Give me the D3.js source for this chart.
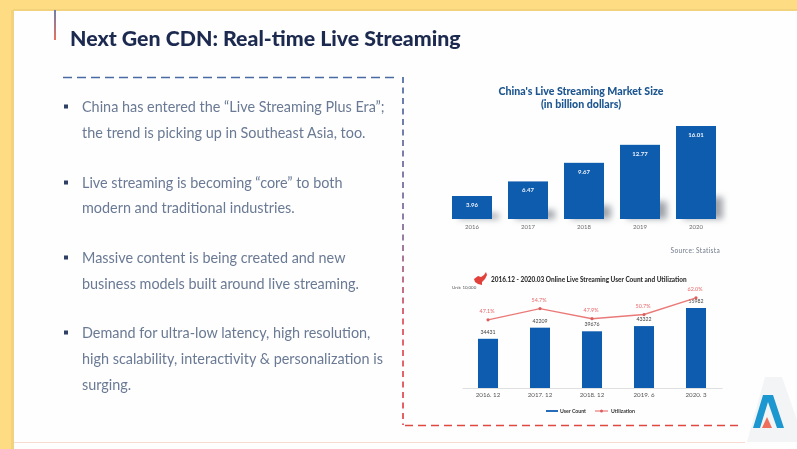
<!DOCTYPE html>
<html>
<head>
<meta charset="utf-8">
<style>
  html, body { margin: 0; padding: 0; background: #fff; overflow: hidden; }
  svg { display: block; font-family: Lato, "Open Sans", sans-serif; }
</style>
<script src="https://cdn.jsdelivr.net/npm/d3@7/dist/d3.min.js"></script>
</head>
<body>
<div id="slide"></div>
<script>
// market size chart
var marketYears = ["2016", "2017", "2018", "2019", "2020"];
var marketValues = [3.96, 6.47, 9.67, 12.77, 16.01];

// user count chart
var userPeriods = ["2016. 12", "2017. 12", "2018. 12", "2019. 6", "2020. 3"];
var userCounts = [34431, 42209, 39676, 43322, 55982];
var utilization = [47.1, 54.7, 47.9, 50.7, 62.0];

// bullet text, one inner array per bullet
var bullets = [
  ["China has entered the “Live Streaming Plus Era”;", "the trend is picking up in Southeast Asia, too."],
  ["Live streaming is becoming “core” to both", "modern and traditional industries."],
  ["Massive content is being created and new", "business models built around live streaming."],
  ["Demand for ultra-low latency, high resolution,", "high scalability, interactivity & personalization is", "surging."]
];

var width = 797, height = 449;

var svg = d3.select("#slide").append("svg")
  .attr("width", width)
  .attr("height", height);

var defs = svg.append("defs");

// the reference is a soft screenshot, so everything gets a bit of blur
function addBlur(id, amount) {
  defs.append("filter").attr("id", id)
    .attr("x", "-10%").attr("y", "-10%").attr("width", "120%").attr("height", "120%")
    .append("feGaussianBlur").attr("stdDeviation", amount);
}
addBlur("soft", 0.55);
addBlur("softer", 0.75);
defs.append("filter").attr("id", "shadow")
  .attr("x", "-50%").attr("y", "-50%").attr("width", "200%").attr("height", "200%")
  .append("feGaussianBlur").attr("stdDeviation", 3);

var accent = defs.append("linearGradient").attr("id", "accent")
  .attr("x1", 0).attr("y1", 0).attr("x2", 0).attr("y2", 1);
accent.append("stop").attr("offset", "0%").attr("stop-color", "#6f7fa8");
accent.append("stop").attr("offset", "100%").attr("stop-color", "#e8705f");

var sideLine = defs.append("linearGradient").attr("id", "sideLine")
  .attr("gradientUnits", "userSpaceOnUse")
  .attr("x1", 0).attr("y1", 77).attr("x2", 0).attr("y2", 426);
sideLine.append("stop").attr("offset", "0%").attr("stop-color", "#3f5f9c");
sideLine.append("stop").attr("offset", "45%").attr("stop-color", "#7a5f90");
sideLine.append("stop").attr("offset", "70%").attr("stop-color", "#d9434f");
sideLine.append("stop").attr("offset", "100%").attr("stop-color", "#e0383f");

// slide background
svg.append("rect").attr("width", width).attr("height", height).attr("fill", "#fddc83");
svg.append("rect").attr("x", 13).attr("y", 10).attr("width", width - 13).attr("height", height - 10).attr("fill", "#fefefe");
svg.append("rect").attr("x", 11).attr("y", 10).attr("width", 3).attr("height", height - 10).attr("fill", "#f3d27c");
svg.append("rect").attr("x", 13).attr("y", 9).attr("width", width - 13).attr("height", 2).attr("fill", "#f3d27c");
svg.append("line").attr("x1", 14).attr("x2", 745).attr("y1", 442.5).attr("y2", 442.5)
  .attr("stroke", "#f6dcd2").attr("stroke-width", 1.2);

var left = svg.append("g").attr("filter", "url(#soft)");

// title
left.append("rect").attr("x", 54).attr("y", 10).attr("width", 2).attr("height", 30).attr("fill", "url(#accent)");
left.append("text")
  .attr("x", 70).attr("y", 46)
  .attr("font-size", 21.3).attr("font-weight", 900).attr("fill", "#1d2a50")
  .text("Next Gen CDN: Real-time Live Streaming");

// dashed frame
left.append("line").attr("x1", 63).attr("x2", 398).attr("y1", 77.5).attr("y2", 77.5)
  .attr("stroke", "#4a6aa3").attr("stroke-width", 1.3).attr("stroke-dasharray", "9 5");
left.append("line").attr("x1", 403).attr("x2", 403.01).attr("y1", 77).attr("y2", 425)
  .attr("stroke", "url(#sideLine)").attr("stroke-width", 1.6).attr("stroke-dasharray", "6 4.5");
left.append("line").attr("x1", 405).attr("x2", 738).attr("y1", 425.5).attr("y2", 425.5)
  .attr("stroke", "#e0483f").attr("stroke-width", 1.6).attr("stroke-dasharray", "8 5");

// bullets
var lineY = [[107, 133], [183, 208], [258, 284], [333, 359, 385]];
bullets.forEach(function(lines, i) {
  left.append("rect").attr("x", 64).attr("y", lineY[i][0] - 2.5).attr("width", 4).attr("height", 4).attr("fill", "#2d3f63");
  lines.forEach(function(t, j) {
    left.append("text")
      .attr("x", 82).attr("y", lineY[i][j])
      .attr("dy", "0.35em")
      .attr("font-size", 14.4).attr("fill", "#6a7a94")
      .text(t);
  });
});

// ---- market size chart ----
var chart1 = svg.append("g").attr("filter", "url(#softer)");

var x1 = d3.scaleBand().domain(marketYears).range([444, 724]).paddingInner(0.2857).paddingOuter(0.1429);
var y1 = d3.scaleLinear().domain([0, 16.01]).range([219, 126]);
var yShadow = d3.scaleLinear().domain([0, 16.01]).range([219, 197]);

chart1.append("text").attr("x", 581).attr("y", 95).attr("text-anchor", "middle")
  .attr("font-size", 10.6).attr("font-weight", 900).attr("fill", "#1c5590")
  .text("China's Live Streaming Market Size");
chart1.append("text").attr("x", 581).attr("y", 107.5).attr("text-anchor", "middle")
  .attr("font-size", 10.6).attr("font-weight", 900).attr("fill", "#1c5590")
  .text("(in billion dollars)");

chart1.append("g").attr("filter", "url(#shadow)")
  .selectAll("rect").data(marketValues).enter().append("rect")
    .attr("x", function(d, i) { return x1(marketYears[i]) + 7; })
    .attr("y", function(d) { return yShadow(d); })
    .attr("width", x1.bandwidth())
    .attr("height", function(d) { return 219 - yShadow(d); })
    .attr("fill", "#a0a4aa");

chart1.selectAll(".bar").data(marketValues).enter().append("rect")
  .attr("class", "bar")
  .attr("x", function(d, i) { return x1(marketYears[i]); })
  .attr("y", function(d) { return y1(d); })
  .attr("width", x1.bandwidth())
  .attr("height", function(d) { return 219 - y1(d); })
  .attr("fill", "#0f5bae");

chart1.selectAll(".val").data(marketValues).enter().append("text")
  .attr("class", "val")
  .attr("x", function(d, i) { return x1(marketYears[i]) + x1.bandwidth() / 2; })
  .attr("y", function(d) { return y1(d) + 11; })
  .attr("text-anchor", "middle")
  .attr("font-size", 6).attr("font-weight", 700).attr("fill", "#eef4fb")
  .text(function(d) { return d.toFixed(2); });

var axis1 = chart1.append("g")
  .attr("transform", "translate(0,219)")
  .call(d3.axisBottom(x1).tickSize(0).tickPadding(6));
axis1.select(".domain").remove();
axis1.selectAll("text").attr("font-family", "Lato").attr("font-size", 6).attr("fill", "#6b6b6b");

chart1.append("text").attr("x", 720).attr("y", 253).attr("text-anchor", "end")
  .attr("font-size", 6.6).attr("letter-spacing", 0.3).attr("fill", "#6e7a88")
  .text("Source: Statista");

// ---- user count chart ----
var chart2 = svg.append("g").attr("filter", "url(#softer)");

var x2 = d3.scaleBand().domain(userPeriods).range([462, 722]).paddingInner(0.615).paddingOuter(0.3075);
var y2 = d3.scaleLinear().domain([0, 55982]).range([388, 308]);
var yRate = d3.scaleLinear().domain([0, 70]).range([389.5, 286]);
var center2 = function(i) { return x2(userPeriods[i]) + x2.bandwidth() / 2; };

// little red map next to the title
chart2.append("path")
  .attr("d", "M474 279 L478 276 L481 277 L484 275 L486 272 L487 275 L485 279 L482 282 L482 285 L478 284 L475 282 Z")
  .attr("fill", "#e2403a");

chart2.append("text").attr("x", 491).attr("y", 281.5)
  .attr("font-size", 6.45).attr("font-weight", 900).attr("fill", "#333")
  .text("2016.12 - 2020.03 Online Live Streaming User Count and Utilization");
chart2.append("text").attr("x", 452).attr("y", 289)
  .attr("font-size", 4.4).attr("fill", "#555")
  .text("Unit: 10,000");

var axis2 = chart2.append("g")
  .attr("transform", "translate(0,388)")
  .call(d3.axisBottom(x2).tickSize(0).tickPadding(5));
axis2.select(".domain").attr("stroke", "#d8d8d8").attr("stroke-width", 0.8);
axis2.selectAll("text").attr("font-family", "Lato").attr("font-size", 6.2).attr("fill", "#555");

chart2.selectAll(".bar").data(userCounts).enter().append("rect")
  .attr("class", "bar")
  .attr("x", function(d, i) { return x2(userPeriods[i]); })
  .attr("y", function(d) { return y2(d); })
  .attr("width", x2.bandwidth())
  .attr("height", function(d) { return 388 - y2(d); })
  .attr("fill", "#0a5cb0");

chart2.selectAll(".val").data(userCounts).enter().append("text")
  .attr("class", "val")
  .attr("x", function(d, i) { return center2(i); })
  .attr("y", function(d) { return y2(d) - 5; })
  .attr("text-anchor", "middle")
  .attr("font-size", 5.2).attr("fill", "#444")
  .text(function(d) { return d; });

var rateLine = d3.line()
  .x(function(d, i) { return center2(i); })
  .y(function(d) { return yRate(d); });

chart2.append("path").datum(utilization)
  .attr("d", rateLine)
  .attr("fill", "none").attr("stroke", "#ea7a78").attr("stroke-width", 1.4);

chart2.selectAll(".dot").data(utilization).enter().append("circle")
  .attr("class", "dot")
  .attr("cx", function(d, i) { return center2(i); })
  .attr("cy", function(d) { return yRate(d); })
  .attr("r", 1.6).attr("fill", "#d9605f");

chart2.selectAll(".rate").data(utilization).enter().append("text")
  .attr("class", "rate")
  .attr("x", function(d, i) { return center2(i) - 1; })
  .attr("y", function(d) { return yRate(d) - 7; })
  .attr("text-anchor", "middle")
  .attr("font-size", 5.4).attr("fill", "#e8686a")
  .text(function(d) { return d.toFixed(1) + "%"; });

// legend
chart2.append("line").attr("x1", 546).attr("x2", 558).attr("y1", 411).attr("y2", 411)
  .attr("stroke", "#0a5cb0").attr("stroke-width", 1.8);
chart2.append("text").attr("x", 560).attr("y", 413)
  .attr("font-size", 5.2).attr("font-weight", 700).attr("fill", "#333").text("User Count");
chart2.append("line").attr("x1", 595).attr("x2", 608).attr("y1", 411).attr("y2", 411)
  .attr("stroke", "#ea7a78").attr("stroke-width", 1.2);
chart2.append("circle").attr("cx", 601.5).attr("cy", 411).attr("r", 1.5).attr("fill", "#d9605f");
chart2.append("text").attr("x", 611).attr("y", 413)
  .attr("font-size", 5.2).attr("font-weight", 700).attr("fill", "#333").text("Utilization");

// logo with the pale watermark behind it
var logo = svg.append("g").attr("filter", "url(#softer)");
logo.append("path")
  .attr("d", "M765 377 L782 377 L797 420 L797 442 L747 442 Z")
  .attr("fill", "#f3f4f5");
logo.append("path")
  .attr("d", "M763 395 L773 395 L784 428 L777 428 L768 402 L760 428 L753 428 Z")
  .attr("fill", "#1f97cf");
logo.append("path")
  .attr("d", "M767 417 L772 428 L762 428 Z")
  .attr("fill", "#ee6f5c");
</script>
</body>
</html>
